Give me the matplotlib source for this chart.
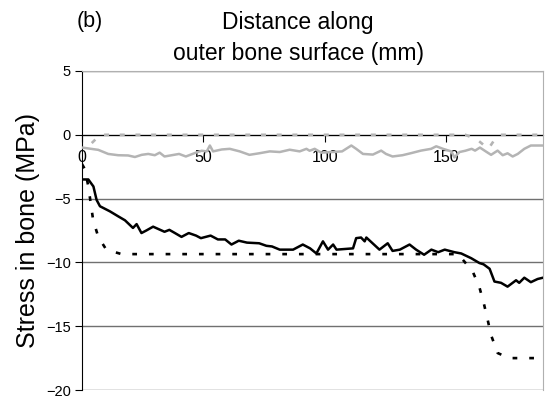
import matplotlib
matplotlib.use("Agg")
import matplotlib.pyplot as plt

plt.rcParams['font.family'] = ['Liberation Sans', 'DejaVu Sans']
plt.rcParams['lines.scale_dashes'] = False

# Data
black_x = [0, 2.6, 4.7, 6, 7.4, 11.5, 15, 17.7, 21, 22.5, 24.5, 26.5, 29.3, 34, 36, 38.3,
           41, 44, 47, 49, 53, 56, 59, 61.6, 64.6, 68, 73, 76, 78.3, 81.5, 87, 91, 94,
           96.6, 99.3, 101.4, 103.5, 104.9, 111.7, 113, 115, 116.5, 117.2, 122.6, 126,
           128, 131, 135, 137.7, 141, 144, 146.8, 149.5, 153.5, 156.3, 160.4, 163.8,
           165.5, 168, 170, 172.7, 175.4, 177.5, 178.9, 180.2, 182.3, 185, 187.8, 190]
black_y = [-3.5, -3.5, -4.05, -5.1, -5.6, -6.0, -6.4, -6.7, -7.3, -7.0, -7.7, -7.5, -7.2,
           -7.6, -7.45, -7.7, -8.0, -7.7, -7.9, -8.1, -7.9, -8.2, -8.2, -8.6, -8.3, -8.45,
           -8.5, -8.7, -8.75, -9.0, -9.0, -8.6, -8.9, -9.3, -8.35, -9.0, -8.6, -9.0, -8.9,
           -8.1, -8.05, -8.35, -8.05, -9.0, -8.5, -9.1, -9.0, -8.6, -9.0, -9.4, -9.0, -9.2,
           -9.0, -9.2, -9.3, -9.67, -10.05, -10.15, -10.5, -11.5, -11.6, -11.9, -11.6,
           -11.4, -11.6, -11.2, -11.55, -11.3, -11.2]

blackdash_x = [0, 1.2, 2.6, 4.6, 6.7, 10, 16.3, 155, 157, 161, 163.8, 165.6, 167.2, 168.6,
               171.3, 176, 190]
blackdash_y = [-2.3, -2.7, -4.05, -6.7, -8.0, -9.0, -9.35, -9.35, -9.8, -10.7, -11.95,
               -13.2, -14.5, -15.7, -17.1, -17.5, -17.5]

grey_x = [0, 6.7, 10.8, 14.9, 19, 21.8, 24.6, 27.3, 30, 32, 34, 37, 40, 42.8, 46.9, 49.3,
          51.4, 52.7, 54, 57.6, 60.9, 65, 69, 73, 77.4, 81.5, 85.6, 89.7, 92.5, 93.8, 95.9,
          98.6, 103, 107.2, 111, 113, 115.8, 119.9, 123.3, 125.3, 128, 132.1, 135.6, 139.7,
          143.9, 146, 148.8, 152.2, 153.5, 155.6, 158, 160.6, 162, 164, 166.8, 168.6, 171.3,
          173.4, 175.4, 177.5, 179.6, 182.3, 185, 190]
grey_y = [-1.0, -1.18, -1.5, -1.6, -1.62, -1.74, -1.57, -1.5, -1.6, -1.4, -1.7, -1.6, -1.5,
          -1.7, -1.4, -1.25, -1.3, -0.84, -1.3, -1.15, -1.1, -1.3, -1.57, -1.45, -1.3, -1.35,
          -1.17, -1.3, -1.1, -1.25, -1.1, -1.4, -1.35, -1.3, -0.84, -1.1, -1.5, -1.55, -1.24,
          -1.5, -1.7, -1.6, -1.44, -1.24, -1.1, -0.9, -1.1, -1.3, -1.77, -1.35, -1.25, -1.1,
          -1.24, -1.0, -1.35, -1.57, -1.24, -1.6, -1.45, -1.7, -1.5, -1.1, -0.84, -0.84]

greydash_x = [4, 7.5, 158, 163, 167.5, 170.5, 172, 190]
greydash_y = [-0.65, 0, 0, -0.4, -1.1, -0.25, 0, 0]

fig = plt.figure(figsize=(5.45, 4.08), dpi=100)
ax = fig.add_axes([0.1505, 0.0441, 0.8458, 0.7819])

ax.plot(grey_x, grey_y, color='#b4b4b4', lw=1.8, zorder=3)
ax.plot(greydash_x, greydash_y, color='#b4b4b4', lw=1.9, dashes=(3.6, 7.7), zorder=3)
ax.plot(black_x, black_y, color='black', lw=1.8, zorder=4)
ax.plot(blackdash_x, blackdash_y, color='black', lw=1.9, dashes=(3.4, 8.6), zorder=4)

ax.set_xlim(0, 190)
ax.set_ylim(-20, 5)
ax.set_xticks([0, 50, 100, 150])
ax.set_yticks([5, 0, -5, -10, -15, -20])
ax.yaxis.grid(True, color='#707070', lw=1.0)
ax.set_axisbelow(True)

ax.spines['bottom'].set_position(('data', 0))
ax.spines['bottom'].set_color('black')
ax.spines['bottom'].set_zorder(2)
ax.spines['left'].set_color('black')
ax.spines['top'].set_color('#b0b0b0')
ax.spines['right'].set_color('#b0b0b0')

ax.tick_params(axis='x', direction='out', length=5, pad=6, labelsize=11.5, color='black')
ax.tick_params(axis='y', direction='out', length=5, pad=3, labelsize=10.5, color='black')

ax.set_ylabel('Stress in bone (MPa)', fontsize=18, labelpad=4)

fig.text(0.141, 0.948, '(b)', fontsize=15.5, ha='left', va='center')
fig.text(0.547, 0.946, 'Distance along', fontsize=16.5, ha='center', va='center')
fig.text(0.547, 0.868, 'outer bone surface (mm)', fontsize=16.5, ha='center', va='center')

fig.savefig('out.png', dpi=100)
